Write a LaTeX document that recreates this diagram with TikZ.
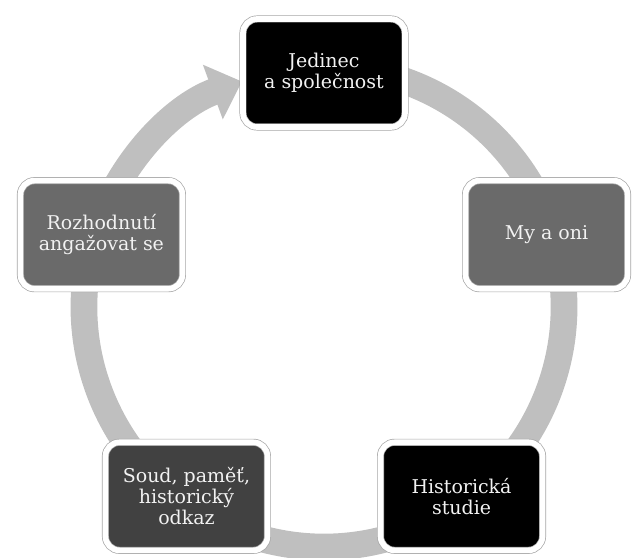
\documentclass[tikz,border=0pt]{standalone}
\usepackage{fontspec}
\setmainfont{DejaVu Serif}
\usepackage{tikz}
\usetikzlibrary{arrows.meta,shadows}
\definecolor{ringgray}{HTML}{BFBFBF}
\definecolor{boxmid}{HTML}{6A6A6A}
\definecolor{boxdark}{HTML}{414141}
\definecolor{textwhite}{HTML}{F2F2F2}
\tikzset{
  stage/.style={rectangle, rounded corners=10pt, minimum width=4.05cm, minimum height=2.7cm,
    align=center, text=textwhite, draw=black!35, line width=0.5pt, double=white,
    double distance=4pt, font=\fontsize{13.5}{15}\selectfont,
    drop shadow={opacity=0.2, shadow xshift=0.6pt, shadow yshift=-0.6pt}},
  cycle ring/.style={ringgray, line width=19pt, -{Triangle[width=40pt,length=22pt]}},
}
\begin{document}
\begin{tikzpicture}[x=0.025cm, y=0.025cm]
	%%%%% START %%%%%
	\useasboundingbox (-324,-251) rectangle (308,307);
	
	\draw[cycle ring] (72:240) arc (72:-250:240);
	
	\node[stage, fill=black] (jedinec) at (90:234) {Jedinec\\a společnost};
	\node[stage, fill=boxmid] (myoni) at (18:234) {My a oni};
	\node[stage, fill=black] (studie) at (-54:234) {Historická\\studie};
	\node[stage, fill=boxdark] (soud) at (-126:234) {Soud, paměť,\\historický\\odkaz};
	\node[stage, fill=boxmid] (rozhodnuti) at (162:234) {Rozhodnutí\\angažovat se};
	%%%%% END %%%%%
\end{tikzpicture}
\end{document}
